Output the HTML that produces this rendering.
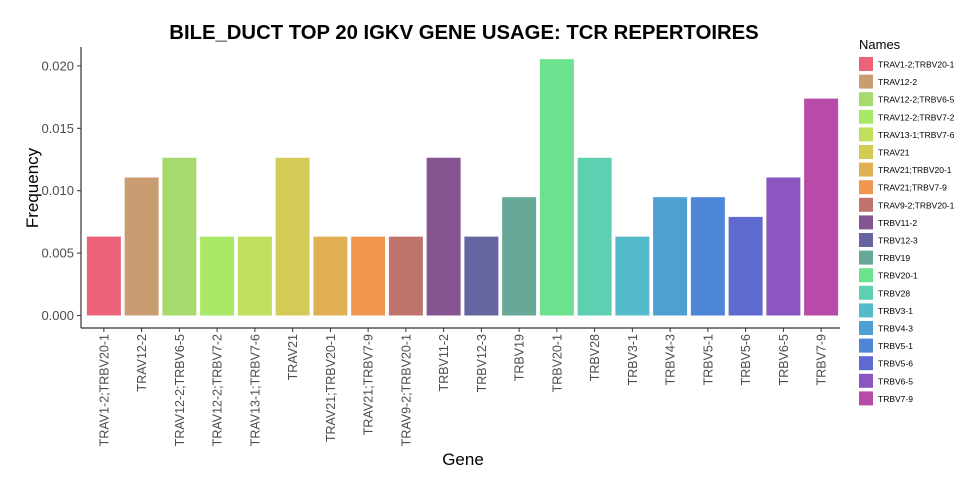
<!DOCTYPE html>
<html><head><meta charset="utf-8"><style>
body{margin:0;background:#fff;font-family:"Liberation Sans",sans-serif}
</style></head><body>
<svg id="chart" width="980" height="490" xmlns="http://www.w3.org/2000/svg" font-family="Liberation Sans, sans-serif">
<text x="464" y="39" text-anchor="middle" font-size="20.3" font-weight="bold" fill="#000">BILE_DUCT TOP 20 IGKV GENE USAGE: TCR REPERTOIRES</text>
<text transform="translate(38,188) rotate(-90)" text-anchor="middle" font-size="17">Frequency</text>
<text x="463" y="465" text-anchor="middle" font-size="17">Gene</text>
<text x="859" y="49" font-size="13">Names</text>
<g id="plot"></g>
<g id="legend"></g>
</svg>
<script>
const categories=["TRAV1-2;TRBV20-1","TRAV12-2","TRAV12-2;TRBV6-5","TRAV12-2;TRBV7-2","TRAV13-1;TRBV7-6","TRAV21","TRAV21;TRBV20-1","TRAV21;TRBV7-9","TRAV9-2;TRBV20-1","TRBV11-2","TRBV12-3","TRBV19","TRBV20-1","TRBV28","TRBV3-1","TRBV4-3","TRBV5-1","TRBV5-6","TRBV6-5","TRBV7-9"];
const values=[0.00632,0.01106,0.01264,0.00632,0.00632,0.01264,0.00632,0.00632,0.00632,0.01264,0.00632,0.00948,0.02054,0.01264,0.00632,0.00948,0.00948,0.0079,0.01106,0.01738];
const colors=["#ec6279","#c99c72","#a6d96e","#a8e866","#c1df5e","#d3cb55","#e2b054","#f0964f","#c0736b","#845591","#67659f","#67a898","#6ce28f","#5fcfb2","#55bac9","#4e9fd2","#4e86d7","#5e6ad0","#8b56bf","#b84aa8"];
const yTicks=[0,0.005,0.010,0.015,0.020];
const yTickLabels=["0.000","0.005","0.010","0.015","0.020"];
const ns="http://www.w3.org/2000/svg";
const plot=document.getElementById('plot'),leg=document.getElementById('legend');
const x0=85,step=37.75,bw=34;
const y=v=>315.5-v/0.005*62.4;
const x=i=>x0+step*(i+0.5);
function mk(t,a,p){const e=document.createElementNS(ns,t);for(const k in a)e.setAttribute(k,a[k]);p.appendChild(e);return e;}
let ax=mk('line',{x1:81,y1:47,x2:81,y2:328,stroke:'#333','stroke-width':1.2},plot);


let bx=mk('line',{x1:81,y1:328,x2:840,y2:328,stroke:'#333','stroke-width':1.2},plot);


yTicks.forEach((t,i)=>{
 const l=mk('line',{x1:77,x2:81,y1:y(t),y2:y(t),stroke:'#333'},plot);
 
 
 const tx=mk('text',{x:74,y:y(t)+4.5,'text-anchor':'end','font-size':13,fill:'#4d4d4d'},plot);
 
 
 tx.textContent=yTickLabels[i];
});
categories.forEach((c,i)=>{
 const r=mk('rect',{x:x(i)-bw/2,y:y(values[i]),width:bw,height:y(0)-y(values[i]),fill:colors[i]},plot);
 
 
 const tk=mk('line',{x1:x(i),x2:x(i),y1:328,y2:332,stroke:'#333'},plot);
 
 
 const tl=mk('text',{transform:`translate(${x(i)+4.5},334) rotate(-90)`,'text-anchor':'end','font-size':12.5,fill:'#4d4d4d'},plot);
 
 
 tl.textContent=c;
 const ly=57+i*17.6;
 const k=mk('rect',{x:859,y:ly,width:14,height:14,fill:colors[i]},leg);
 
 
 const lt=mk('text',{x:878,y:ly+10.5,'font-size':8.5,fill:'#000'},leg);
 
 
 lt.textContent=c;
});
</script>
</body></html>
